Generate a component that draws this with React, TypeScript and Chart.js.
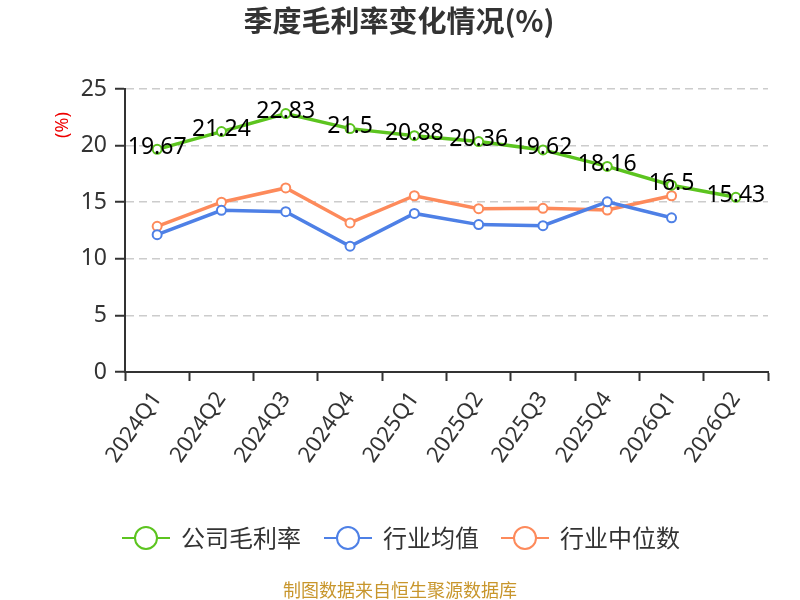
import React, { useEffect, useRef } from "react";
import { Chart, registerables } from "chart.js";

Chart.register(...registerables);

const quarters = [
  "2024Q1", "2024Q2", "2024Q3", "2024Q4", "2025Q1",
  "2025Q2", "2025Q3", "2025Q4", "2026Q1", "2026Q2",
];
const companyMargin = [19.67, 21.24, 22.83, 21.5, 20.88, 20.36, 19.62, 18.16, 16.5, 15.43];
const industryAvg = [12.13, 14.28, 14.16, 11.11, 14.01, 13.02, 12.93, 15.03, 13.62, null];
const industryMedian = [12.87, 15.0, 16.26, 13.17, 15.57, 14.43, 14.46, 14.31, 15.57, null];
const seriesNames = ["公司毛利率", "行业均值", "行业中位数"];
const seriesColors = ["#5cc41f", "#4e80e6", "#fd8a5b"];

const FONT = "'Noto Sans', 'Noto Sans CJK SC', sans-serif";
const CJK = "'Noto Sans CJK SC', sans-serif";

// title, unit label, value labels, legend and source line are painted by hand
const decorations = {
  id: "decorations",
  afterDatasetsDraw(chart: any) {
    const ctx = chart.ctx;
    const meta = chart.getDatasetMeta(0);
    ctx.save();
    ctx.font = `23px ${FONT}`;
    ctx.fillStyle = "#000";
    ctx.textAlign = "center";
    ctx.textBaseline = "middle";
    meta.data.forEach((pt: any, i: number) => {
      ctx.fillText(String(companyMargin[i]), pt.x, pt.y - 2);
    });
    ctx.restore();
  },
  afterDraw(chart: any) {
    const ctx = chart.ctx;
    ctx.save();

    ctx.font = `bold 29px ${CJK}`;
    ctx.fillStyle = "#333";
    ctx.textAlign = "center";
    ctx.textBaseline = "middle";
    ctx.fillText("季度毛利率变化情况(%)", 399, 21);

    ctx.save();
    ctx.translate(63, 125);
    ctx.rotate(-Math.PI / 2);
    ctx.font = `18px ${FONT}`;
    ctx.fillStyle = "#e00";
    ctx.fillText("(%)", 0, 0);
    ctx.restore();

    const centers = [146, 348, 525];
    const legendY = 538;
    centers.forEach((cx, i) => {
      ctx.strokeStyle = seriesColors[i];
      ctx.lineWidth = 2;
      ctx.beginPath();
      ctx.moveTo(cx - 24, legendY);
      ctx.lineTo(cx + 24, legendY);
      ctx.stroke();
      ctx.beginPath();
      ctx.arc(cx, legendY, 11, 0, Math.PI * 2);
      ctx.fillStyle = "#fff";
      ctx.fill();
      ctx.stroke();
      ctx.font = `24px ${CJK}`;
      ctx.fillStyle = "#333";
      ctx.textAlign = "left";
      ctx.fillText(seriesNames[i], cx + 35, legendY);
    });

    ctx.font = `18px ${CJK}`;
    ctx.fillStyle = "#c8962c";
    ctx.textAlign = "center";
    ctx.fillText("制图数据来自恒生聚源数据库", 400, 590);

    ctx.restore();
  },
};

const App: React.FC = () => {
  const canvasRef = useRef<HTMLCanvasElement | null>(null);

  useEffect(() => {
    if (!canvasRef.current) return;
    const ctx = canvasRef.current.getContext("2d");
    if (!ctx) return;

    const values = [companyMargin, industryAvg, industryMedian];
    const chart = new Chart(ctx, {
      type: "line",
      data: {
        labels: quarters,
        datasets: values.map((data, i) => ({
          label: seriesNames[i],
          data: data as any,
          borderColor: seriesColors[i],
          backgroundColor: "#fff",
          borderWidth: 3.5,
          pointRadius: 4.5,
          pointBorderWidth: 2,
          pointBackgroundColor: "#fff",
          pointBorderColor: seriesColors[i],
          tension: 0,
        })),
      },
      options: {
        responsive: false,
        animation: false,
        layout: { padding: { top: 89, right: 32, left: 0, bottom: 0 } },
        plugins: {
          legend: { display: false },
          title: { display: false },
          tooltip: { enabled: false },
        },
        scales: {
          x: {
            offset: true,
            afterFit: (s: any) => {
              s.height = 228;
            },
            grid: {
              display: true,
              offset: true,
              drawOnChartArea: false,
              drawTicks: true,
              tickLength: 9,
              tickColor: "#333",
              tickWidth: 2,
            },
            border: { color: "#333", width: 2 },
            ticks: {
              autoSkip: false,
              minRotation: 55,
              maxRotation: 55,
              padding: 6,
              color: "#333",
              font: { size: 22, family: FONT },
            },
          },
          y: {
            min: 0,
            max: 25,
            afterFit: (s: any) => {
              s.width = 125;
            },
            grid: {
              color: "#ccc",
              lineWidth: 1.5,
              tickLength: 10,
              tickColor: "#333",
              tickWidth: 2,
            },
            border: { color: "#333", width: 2, dash: [8, 5] },
            ticks: {
              stepSize: 5,
              padding: 8,
              color: "#333",
              font: { size: 23, family: FONT },
            },
          },
        },
      },
      plugins: [decorations],
    });

    return () => {
      chart.destroy();
    };
  }, []);

  return (
    <div style={{ position: "absolute", left: 0, top: 0, width: 800, height: 600, background: "#fff" }}>
      <canvas ref={canvasRef} width={800} height={600} />
    </div>
  );
};

export default App;
